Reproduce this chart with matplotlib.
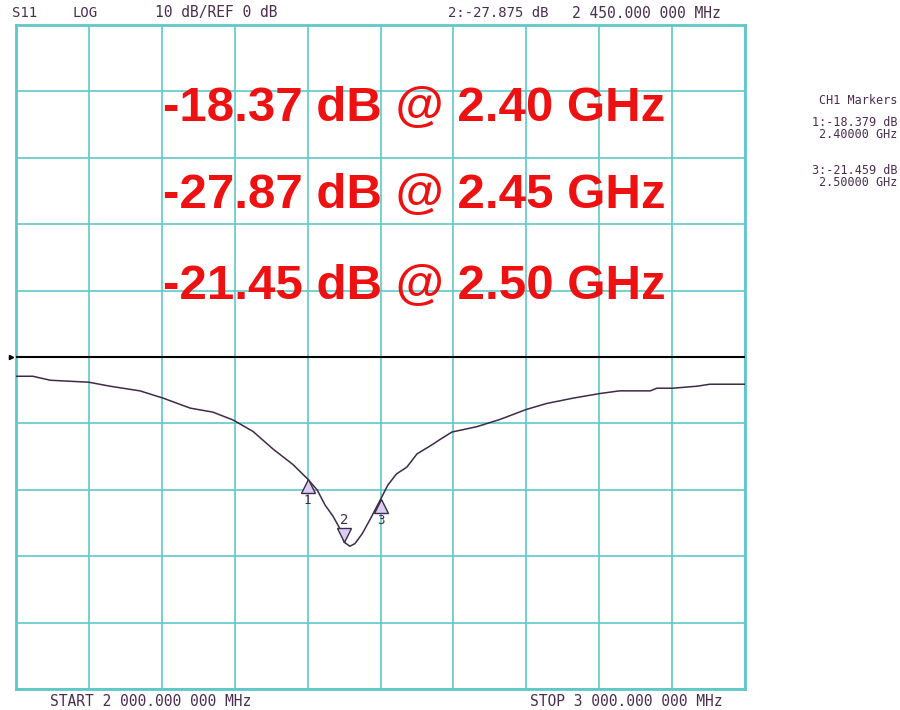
import matplotlib.pyplot as plt
from matplotlib.transforms import offset_copy

# S11 trace (GHz, dB)
freq_ghz = [2.001, 2.023, 2.047, 2.100, 2.129, 2.170, 2.202, 2.239, 2.270, 2.298,
            2.325, 2.353, 2.380, 2.400, 2.413, 2.424, 2.435, 2.445, 2.450, 2.458,
            2.465, 2.475, 2.486, 2.500, 2.510, 2.522, 2.536, 2.550, 2.568, 2.582,
            2.598, 2.632, 2.664, 2.700, 2.728, 2.764, 2.801, 2.828, 2.870, 2.879,
            2.901, 2.934, 2.952, 3.000]
s11_db = [-2.9, -2.9, -3.5, -3.8, -4.4, -5.1, -6.2, -7.7, -8.3, -9.5,
          -11.2, -13.9, -16.2, -18.37, -20.0, -22.3, -24.0, -26.0, -27.88, -28.5,
          -28.1, -26.6, -24.4, -21.46, -19.3, -17.6, -16.6, -14.6, -13.4, -12.4,
          -11.3, -10.5, -9.4, -7.9, -7.0, -6.2, -5.5, -5.1, -5.1, -4.7,
          -4.7, -4.4, -4.1, -4.1]

marker_ids = ["1", "2", "3"]
marker_freq = [2.40, 2.45, 2.50]
marker_db = [-18.379, -27.875, -21.459]

big_labels = ["-18.37 dB @ 2.40 GHz", "-27.87 dB @ 2.45 GHz", "-21.45 dB @ 2.50 GHz"]
header = [("S11", 12, 10), ("LOG", 73, 10), ("10 dB/REF 0 dB", 155, 10.5),
          ("2:-27.875 dB", 448, 10), ("2 450.000 000 MHz", 572, 10.5)]
side_lines = [("CH1 Markers", 100), ("1:-18.379 dB", 122), ("2.40000 GHz", 134),
              ("3:-21.459 dB", 170), ("2.50000 GHz", 182)]

W, H = 900, 710
grid_c = "#5fc8c8"
ink = "#4b2d4f"

fig = plt.figure(figsize=(W / 100, H / 100), dpi=100)
fig.patch.set_facecolor("white")
ax = fig.add_axes([16 / W, 1 - 689 / H, (745 - 16) / W, (689 - 25) / H])

ax.set_xlim(2.0, 3.0)
ax.set_ylim(-50, 50)
ax.set_xticks([2.0 + 0.1 * i for i in range(11)])
ax.set_yticks(range(-50, 51, 10))
ax.grid(True, color=grid_c, lw=1.2)
ax.tick_params(length=0, labelbottom=False, labelleft=False)
for sp in ax.spines.values():
    sp.set_color(grid_c)
    sp.set_linewidth(2)

# reference line at 0 dB
ax.axhline(0, color="black", lw=1.5, zorder=3)
ax.plot([2.0], [0], marker=">", ms=3, color="black", clip_on=False,
        transform=offset_copy(ax.transData, fig, x=-5, y=0, units="dots"))

ax.plot(freq_ghz, s11_db, color="#3e2a48", lw=1.1, zorder=4)

# markers: 1 and 3 as up-triangles under the trace, 2 as down-triangle above
for mid, f, d in zip(marker_ids, marker_freq, marker_db):
    if mid == "2":
        tr = offset_copy(ax.transData, fig, x=0, y=7, units="dots")
        ax.plot(f, d, marker="v", ms=10, mfc="#d9cdf0", mec="#3e2a48", mew=1, transform=tr, zorder=5)
        ax.text(f, d, mid, transform=offset_copy(ax.transData, fig, x=0, y=22, units="dots"),
                ha="center", va="center", fontsize=10, color="#3e2a48", family="DejaVu Sans Mono")
    else:
        tr = offset_copy(ax.transData, fig, x=0, y=-7, units="dots")
        ax.plot(f, d, marker="^", ms=10, mfc="#d9cdf0", mec="#3e2a48", mew=1, transform=tr, zorder=5)
        ax.text(f, d, mid, transform=offset_copy(ax.transData, fig, x=0, y=-21, units="dots"),
                ha="center", va="center", fontsize=9, color="#3e2a48", family="DejaVu Sans Mono")

# big red annotation
for lab, base in zip(big_labels, [121, 208, 299]):
    fig.text(163 / W, 1 - base / H, lab, fontsize=35.5, fontweight="bold", color="#ee1111",
             family="Liberation Sans", ha="left", va="baseline")

for txt, x, fs in header:
    fig.text(x / W, 1 - 13 / H, txt, fontsize=fs, color=ink, family="DejaVu Sans Mono",
             ha="left", va="center")

fig.text(50 / W, 1 - 701 / H, "START 2 000.000 000 MHz", fontsize=10.5, color=ink,
         family="DejaVu Sans Mono", ha="left", va="center")
fig.text(722 / W, 1 - 701 / H, "STOP 3 000.000 000 MHz", fontsize=10.5, color=ink,
         family="DejaVu Sans Mono", ha="right", va="center")

for txt, y in side_lines:
    fig.text(897 / W, 1 - y / H, txt, fontsize=8.5, color=ink, family="DejaVu Sans Mono",
             ha="right", va="center")

fig.savefig("out.png", dpi=100)
